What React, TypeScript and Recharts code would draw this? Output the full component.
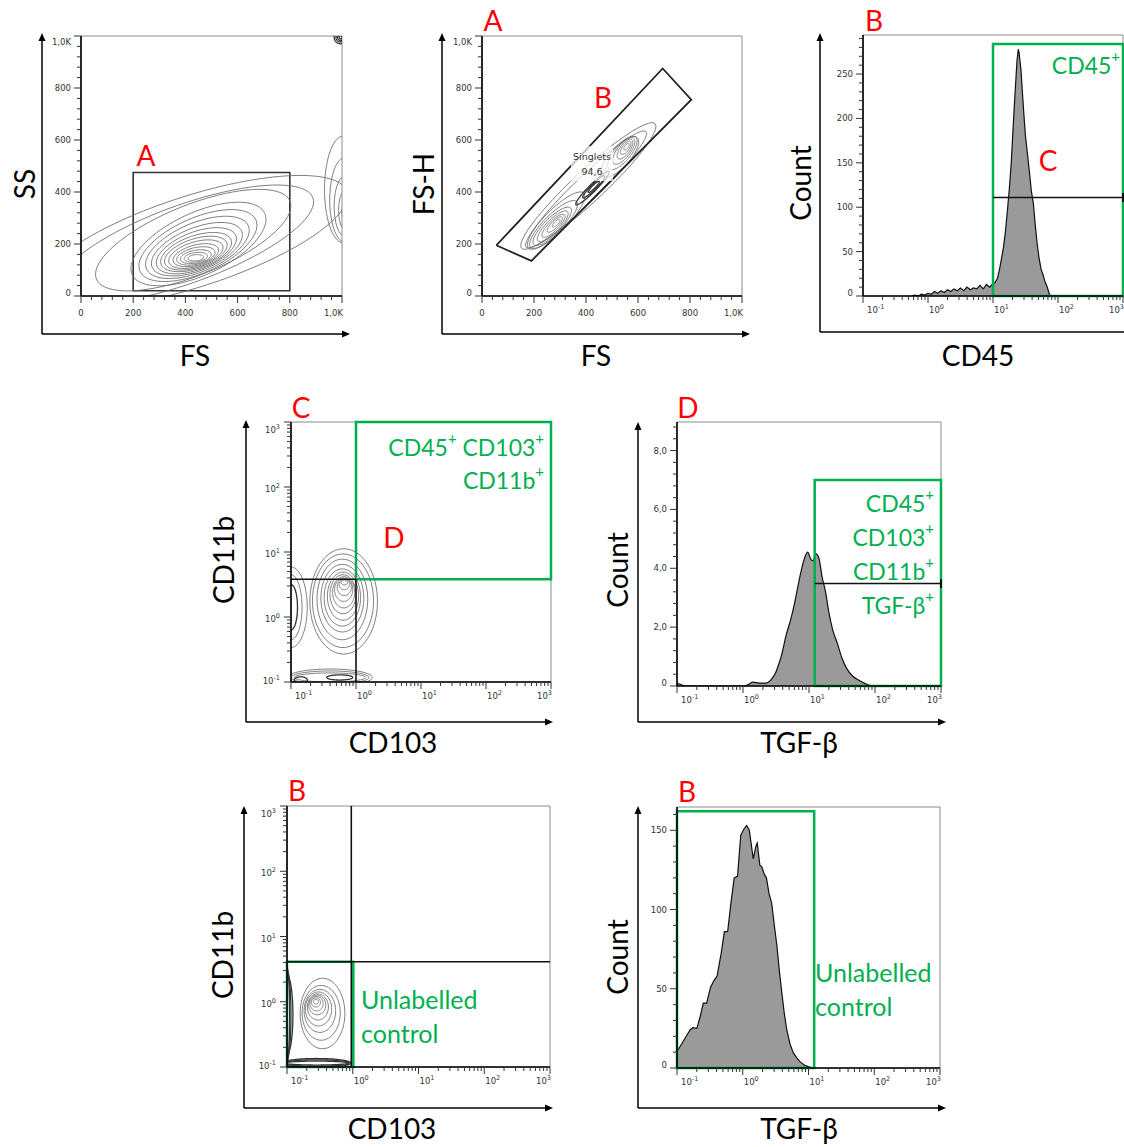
import React from 'react';
import { ComposedChart, XAxis, YAxis, Line, Area, ReferenceArea, ReferenceLine } from 'recharts';

// ---------------- tick values / labels ----------------
const LIN_TICKS = [0, 200, 400, 600, 800, 1000];
const LIN_TICK_LABELS = ['0', '200', '400', '600', '800', '1,0K'];
const LOG_TICKS = [0.1, 1, 10, 100, 1000];
const LOG_TICK_EXPONENTS = ['-1', '0', '1', '2', '3'];
const CD45_COUNT_TICKS = [0, 50, 100, 150, 200, 250];
const CD45_COUNT_LABELS = ['0', '50', '100', '150', '200', '250'];
const TGF_GATED_COUNT_TICKS = [0, 2, 4, 6, 8];
const TGF_GATED_COUNT_LABELS = ['0', '2,0', '4,0', '6,0', '8,0'];
const TGF_CTRL_COUNT_TICKS = [0, 50, 100, 150];
const TGF_CTRL_COUNT_LABELS = ['0', '50', '100', '150'];

// ---------------- histogram data ----------------
const CD45_X = [0.56, 0.63, 0.71, 0.79, 0.89, 1.0, 1.12, 1.26, 1.41, 1.58, 1.78, 2.0, 2.24, 2.51, 2.82, 3.16, 3.55, 3.98, 4.47, 5.01, 5.62, 6.31, 7.08, 7.94, 8.91, 10.0, 10.7, 11.7, 12.6, 13.5, 14.5, 15.5, 16.6, 17.8, 19.1, 20.4, 21.9, 23.4, 24.5, 25.1, 25.7, 26.9, 28.2, 29.5, 31.6, 33.9, 36.3, 38.9, 41.7, 44.7, 47.9, 51.3, 55.0, 58.9, 63.1, 67.6, 72.4, 75.9];
const CD45_COUNT = [0, 1, 0, 2, 1, 3, 2, 5, 3, 6, 4, 7, 5, 8, 6, 9, 6, 10, 7, 9, 8, 12, 8, 13, 10, 14, 15, 20, 30, 42, 55, 72, 95, 120, 150, 190, 230, 265, 278, 275, 268, 255, 232, 210, 180, 160, 140, 118, 105, 80, 58, 42, 30, 24, 16, 11, 4, 0];

const TGF_GATED_X = [0.1, 0.112, 0.132, 1.0, 1.2, 1.41, 1.78, 2.24, 2.63, 3.09, 3.55, 3.89, 4.47, 5.25, 6.03, 6.61, 7.59, 8.71, 9.55, 10.7, 11.5, 12.6, 14.1, 15.8, 17.8, 20.0, 22.9, 26.9, 31.6, 37.2, 45.7, 56.2, 70.8, 87.1];
const TGF_GATED_COUNT = [0.08, 0.06, 0, 0, 0.05, 0.13, 0.1, 0.1, 0.2, 0.43, 0.8, 1.1, 1.7, 2.24, 2.8, 3.25, 3.9, 4.4, 4.55, 4.3, 4.25, 4.5, 4.35, 3.7, 3.2, 2.5, 1.9, 1.45, 0.95, 0.6, 0.34, 0.2, 0.08, 0];

const TGF_CTRL_X = [0.1, 0.117, 0.138, 0.158, 0.174, 0.2, 0.224, 0.251, 0.282, 0.324, 0.363, 0.407, 0.468, 0.525, 0.589, 0.661, 0.741, 0.832, 0.933, 1.047, 1.148, 1.259, 1.38, 1.445, 1.585, 1.66, 1.82, 1.95, 2.138, 2.291, 2.512, 2.754, 3.02, 3.311, 3.631, 3.89, 4.266, 4.677, 5.248, 5.888, 6.607, 7.413, 8.913, 10.72, 12.02];
const TGF_CTRL_COUNT = [10.5, 15, 20, 24, 25.5, 25, 32, 41, 41, 51, 55, 58, 72, 86, 86, 104, 120, 121, 147, 151, 153, 150, 138, 132, 140, 142, 128, 127, 122, 120, 110, 104, 90, 77, 60, 49, 35, 24, 15, 9.5, 6.5, 4, 1.5, 0.4, 0];

// ---------------- contour outlines: [cx, cy, rx, ry, angleDeg, dark] ----------------
const FS_SS_CONTOURS = [
  [440, 147, 30, 12, 5, 0], [440, 149, 45, 18, 8, 0], [440, 151, 60, 25, 10, 0], [440, 154, 75, 32, 13, 0],
  [440, 157, 90, 39, 15, 0], [440, 161, 108, 47, 17, 0], [440, 165, 125, 55, 18, 0], [441, 169, 142, 63, 19, 0],
  [442, 174, 162, 72, 21, 0], [444, 180, 185, 82, 22, 0], [446, 187, 212, 94, 23, 0], [448, 194, 243, 106, 24, 0],
  [450, 200, 280, 120, 25, 0], [430, 215, 400, 135, 22, 0], [400, 200, 520, 150, 20, 0],
  [430, 210, 620, 175, 18, 0],
  [1012, 320, 12, 40, 0, 0], [1012, 330, 25, 75, 0, 0], [1010, 345, 40, 115, 0, 0], [1008, 370, 55, 160, 0, 0], [1005, 410, 72, 205, 0, 0],
  [995, 995, 6, 6, 0, 1], [995, 995, 12, 12, 0, 1], [995, 995, 18, 18, 0, 1], [995, 995, 25, 25, 0, 1],
];
const FS_FSH_CONTOURS = [
  [409, 423, 351, 60, 43, 0], [400, 410, 320, 48, 44, 0],
  [285, 280, 20, 7, 45, 0], [280, 275, 40, 13, 45, 0], [275, 270, 60, 19, 45, 0], [272, 268, 80, 25, 45, 0],
  [270, 268, 100, 31, 45, 0], [275, 275, 125, 37, 45, 0], [285, 290, 150, 43, 45, 0],
  [556, 574, 15, 7, 55, 0], [553, 570, 30, 13, 55, 0], [550, 565, 45, 19, 55, 0], [545, 558, 62, 25, 52, 0],
  [540, 550, 80, 31, 50, 0], [530, 535, 100, 38, 48, 0],
  [430, 420, 30, 6, 45, 1], [430, 420, 60, 10, 45, 1], [425, 415, 90, 14, 45, 1],
];
// log10 coordinates
const CD103_CD11B_CONTOURS = [
  [-0.18, 0.53, 0.05, 0.035, 0, 0], [-0.18, 0.5, 0.08, 0.08, 0, 0], [-0.18, 0.46, 0.11, 0.13, 0, 0],
  [-0.19, 0.42, 0.14, 0.18, 0, 0], [-0.19, 0.38, 0.17, 0.24, 0, 0], [-0.2, 0.35, 0.2, 0.3, 0, 0],
  [-0.2, 0.32, 0.24, 0.37, 0, 0], [-0.21, 0.3, 0.28, 0.44, 0, 0], [-0.21, 0.29, 0.33, 0.52, 0, 0],
  [-0.21, 0.27, 0.39, 0.62, 0, 0], [-0.2, 0.25, 0.47, 0.72, 0, 0], [-0.19, 0.24, 0.52, 0.81, 0, 0],
  [-1.0, 0.15, 0.1, 0.35, 0, 1], [-1.0, 0.15, 0.17, 0.5, 0, 0], [-1.0, 0.15, 0.25, 0.62, 0, 0],
  [-0.4, -0.93, 0.55, 0.07, 0, 0], [-0.4, -0.93, 0.6, 0.1, 0, 0], [-0.4, -0.93, 0.65, 0.13, 0, 0],
  [-0.25, -0.93, 0.2, 0.04, 0, 1], [-0.85, -0.97, 0.1, 0.05, 0, 1],
];
const CTRL_CONTOURS = [
  [-0.56, 0.0, 0.04, 0.035, 0, 0], [-0.56, -0.01, 0.07, 0.07, 0, 0], [-0.55, -0.03, 0.1, 0.11, 0, 0],
  [-0.54, -0.05, 0.13, 0.15, 0, 0], [-0.53, -0.08, 0.16, 0.2, 0, 0], [-0.52, -0.11, 0.2, 0.26, 0, 0],
  [-0.5, -0.14, 0.24, 0.33, 0, 0], [-0.48, -0.17, 0.29, 0.42, 0, 0], [-0.46, -0.18, 0.34, 0.54, 0, 0],
  [-1.0, -0.2, 0.04, 0.72, 0, 1], [-1.0, -0.2, 0.06, 0.68, 0, 1], [-1.0, -0.2, 0.09, 0.6, 0, 1],
  [-0.55, -0.94, 0.48, 0.03, 0, 1], [-0.55, -0.94, 0.5, 0.05, 0, 1], [-0.55, -0.94, 0.52, 0.07, 0, 1],
];
const SINGLETS_GATE_FS = [55, 190, 805, 695, 55];
const SINGLETS_GATE_FSH = [195, 135, 755, 875, 195];

// ---------------- styling ----------------
const GREEN = '#00b050';
const RED = '#ff0000';
const TITLE_FONT = 'Lato, "Open Sans", sans-serif';
const TICK_FONT = '"DejaVu Sans", sans-serif';

const near = (a: number, b: number) => Math.abs(a - b) <= 1e-6 * Math.max(1, Math.abs(b));
const steps = (max: number, num: number, den: number) => {
  const out: number[] = [];
  for (let i = 0; (i * num) / den <= max + 1e-9; i++) out.push((i * num) / den);
  return out;
};
const logTicks = () => {
  const out: number[] = [];
  [-1, 0, 1, 2].forEach((d) => { for (let k = 1; k <= 9; k++) out.push(k * Math.pow(10, d)); });
  out.push(1000);
  return out;
};

function outline(c: number[], log: boolean, n = 80) {
  const [cx, cy, rx, ry, a] = c;
  const t = (a * Math.PI) / 180;
  const pts: { x: number; y: number }[] = [];
  for (let i = 0; i <= n; i++) {
    const u = (i / n) * 2 * Math.PI;
    const ex = rx * Math.cos(u), ey = ry * Math.sin(u);
    const x = cx + ex * Math.cos(t) - ey * Math.sin(t);
    const y = cy + ex * Math.sin(t) + ey * Math.cos(t);
    pts.push(log ? { x: Math.pow(10, x), y: Math.pow(10, y) } : { x, y });
  }
  return pts;
}
const zip = (xs: number[], ys: number[]) => xs.map((x, i) => ({ x, y: ys[i] }));

type AxisCfg = { log: boolean; domain: [number, number]; ticks: number[]; majors: number[]; labels: string[] };

const LIN_AXIS: AxisCfg = { log: false, domain: [0, 1000], ticks: steps(1000, 40, 1), majors: LIN_TICKS, labels: LIN_TICK_LABELS };
const LOG_AXIS: AxisCfg = { log: true, domain: [0.1, 1000], ticks: logTicks(), majors: LOG_TICKS, labels: LOG_TICK_EXPONENTS };

const TICK_TEXT = { fontSize: 8.5, fontFamily: TICK_FONT, fill: '#333' };

function XTick(props: any) {
  const { x, y, payload, cfg } = props;
  const idx = cfg.majors.findIndex((m: number) => near(m, payload.value));
  const major = idx >= 0;
  const last = near(payload.value, cfg.domain[1]);
  return (
    <g>
      <line x1={x} y1={y} x2={x} y2={y + (major ? 7 : 4)} stroke="#333" strokeWidth={1} />
      {major && (cfg.log ? (
        <text x={last ? x + 1 : x + (idx === 0 ? 4 : 1)} y={y + 17} textAnchor={last ? 'end' : 'start'} {...TICK_TEXT}>
          10<tspan dy={-4} fontSize={6.5}>{cfg.labels[idx]}</tspan>
        </text>
      ) : (
        <text x={last ? x + 1 : x} y={y + 20} textAnchor={last ? 'end' : 'middle'} {...TICK_TEXT}>{cfg.labels[idx]}</text>
      ))}
    </g>
  );
}
function YTick(props: any) {
  const { x, y, payload, cfg } = props;
  const idx = cfg.majors.findIndex((m: number) => near(m, payload.value));
  const major = idx >= 0;
  const shift = near(payload.value, cfg.domain[1]) ? 6 : near(payload.value, cfg.domain[0]) ? -3 : 0;
  return (
    <g>
      <line x1={x - (major ? 7 : 4)} y1={y} x2={x} y2={y} stroke="#333" strokeWidth={1} />
      {major && (cfg.log ? (
        <text x={x - 11} y={y + 5 + shift} textAnchor="end" {...TICK_TEXT}>
          10<tspan dy={-4} fontSize={6.5}>{cfg.labels[idx]}</tspan>
        </text>
      ) : (
        <text x={x - 10} y={y + 3 + shift} textAnchor="end" {...TICK_TEXT}>{cfg.labels[idx]}</text>
      ))}
    </g>
  );
}

function Panel({ frame, x, y, children }: { frame: number[]; x: AxisCfg; y: AxisCfg; children: any }) {
  const [fx0, fy0, fx1, fy1] = frame;
  const ML = 50, MR = 22, MT = 6, MB = 30;
  const w = fx1 - fx0 + ML + MR;
  const h = fy1 - fy0 + MT + MB;
  return (
    <div style={{ position: 'absolute', left: fx0 - ML, top: fy0 - MT, width: w, height: h }}>
      <ComposedChart width={w} height={h} margin={{ top: MT, right: MR, bottom: 0, left: 0 }}>
        <XAxis dataKey="x" type="number" scale={x.log ? 'log' : 'linear'} domain={x.domain} allowDataOverflow
          ticks={x.ticks} interval={0} tickSize={0} tickMargin={0} height={MB}
          axisLine={{ stroke: '#000', strokeWidth: 1.6 }} tickLine={false} tick={<XTick cfg={x} />} />
        <YAxis type="number" scale={y.log ? 'log' : 'linear'} domain={y.domain} allowDataOverflow
          ticks={y.ticks} interval={0} tickSize={0} tickMargin={0} width={ML}
          axisLine={{ stroke: '#000', strokeWidth: 1.6 }} tickLine={false} tick={<YTick cfg={y} />} />
        <ReferenceArea x1={x.domain[0]} x2={x.domain[1]} y1={y.domain[0]} y2={y.domain[1]}
          fill="#fff" fillOpacity={0} stroke="#8c8c8c" strokeWidth={1} ifOverflow="visible" />
        {children}
      </ComposedChart>
    </div>
  );
}

const contourLines = (list: number[][], log: boolean, prefix: string) =>
  list.map((c, i) => (
    <Line key={`${prefix}${i}`} data={outline(c, log)} dataKey="y" type="linear" dot={false} activeDot={false}
      stroke={c[5] ? '#333' : '#707070'} strokeWidth={c[5] ? 1.3 : 0.9} isAnimationActive={false} />
  ));

function Arrow({ x1, y1, x2, y2, head = true }: { x1: number; y1: number; x2: number; y2: number; head?: boolean }) {
  const dx = x2 - x1, dy = y2 - y1;
  const L = Math.hypot(dx, dy);
  const ux = dx / L, uy = dy / L;
  const bx = x2 - ux * 8, by = y2 - uy * 8;
  return (
    <g>
      <line x1={x1} y1={y1} x2={head ? bx : x2} y2={head ? by : y2} stroke="#000" strokeWidth={1.5} />
      {head && <polygon points={`${x2},${y2} ${bx - uy * 3.5},${by + ux * 3.5} ${bx + uy * 3.5},${by - ux * 3.5}`} fill="#000" />}
    </g>
  );
}

const Title = ({ x, y, text, rot = false }: { x: number; y: number; text: string; rot?: boolean }) => (
  <text x={x} y={y} textAnchor="middle" dominantBaseline="central" fontSize={28} fontFamily={TITLE_FONT} fill="#000"
    transform={rot ? `rotate(-90 ${x} ${y})` : undefined}>{text}</text>
);
const Letter = ({ x, y, t }: { x: number; y: number; t: string }) => (
  <text x={x} y={y} textAnchor="middle" dominantBaseline="central" fontSize={28} fontFamily={TITLE_FONT} fill={RED}>{t}</text>
);
const GreenPlus = ({ x, y, parts, size = 23, anchor = 'end' }: { x: number; y: number; parts: string[]; size?: number; anchor?: string }) => (
  <text x={x} y={y} textAnchor={anchor} dominantBaseline="central" fontSize={size} fontFamily={TITLE_FONT} fill={GREEN}>
    {parts.map((p, i) => [
      <tspan key={`a${i}`} dy={i === 0 ? 0 : 9}>{p}</tspan>,
      <tspan key={`b${i}`} dy={-9} fontSize={size * 0.65}>+</tspan>,
    ])}
  </text>
);
const GreenText = ({ x, y, t, size = 25 }: { x: number; y: number; t: string; size?: number }) => (
  <text x={x} y={y} textAnchor="start" dominantBaseline="central" fontSize={size} fontFamily={TITLE_FONT} fill={GREEN}>{t}</text>
);

export default function App() {
  const cd45Axis: AxisCfg = { log: false, domain: [0, 294], ticks: steps(290, 10, 1), majors: CD45_COUNT_TICKS, labels: CD45_COUNT_LABELS };
  const tgfGatedAxis: AxisCfg = { log: false, domain: [0, 8.97], ticks: steps(8.8, 4, 10), majors: TGF_GATED_COUNT_TICKS, labels: TGF_GATED_COUNT_LABELS };
  const tgfCtrlAxis: AxisCfg = { log: false, domain: [0, 164.7], ticks: steps(160, 10, 1), majors: TGF_CTRL_COUNT_TICKS, labels: TGF_CTRL_COUNT_LABELS };
  const singlets = zip(SINGLETS_GATE_FS, SINGLETS_GATE_FSH);

  return (
    <div style={{ position: 'absolute', left: 0, top: 0, width: 1124, height: 1147, overflow: 'hidden', background: '#fff' }}>
      {/* Panel 1: SS vs FS */}
      <Panel frame={[81, 36, 342, 296]} x={LIN_AXIS} y={LIN_AXIS}>
        {contourLines(FS_SS_CONTOURS, false, 'p1')}
        <ReferenceArea x1={200} x2={800} y1={20} y2={475} fill="#fff" fillOpacity={0} stroke="#333" strokeWidth={1.6} />
      </Panel>

      {/* Panel 2: FS-H vs FS */}
      <Panel frame={[482, 36, 742, 296]} x={LIN_AXIS} y={LIN_AXIS}>
        {contourLines(FS_FSH_CONTOURS, false, 'p2')}
        <Line data={singlets} dataKey="y" type="linear" dot={false} activeDot={false} stroke="#222" strokeWidth={1.8} isAnimationActive={false} />
      </Panel>

      {/* Panel 3: CD45 histogram */}
      <Panel frame={[863, 35, 1123, 296]} x={LOG_AXIS} y={cd45Axis}>
        <Area data={zip(CD45_X, CD45_COUNT)} dataKey="y" type="linear" stroke="#111" strokeWidth={1.2} fill="#9a9a9a" fillOpacity={1} baseValue={0} isAnimationActive={false} />
        <ReferenceArea x1={10} x2={1000} y1={0} y2={284} fill="#fff" fillOpacity={0} stroke={GREEN} strokeWidth={2.5} />
        <ReferenceLine segment={[{ x: 10, y: 111 }, { x: 1000, y: 111 }]} stroke="#111" strokeWidth={1.5} />
        <ReferenceLine segment={[{ x: 1000, y: 106 }, { x: 1000, y: 116 }]} stroke="#111" strokeWidth={2} />
      </Panel>

      {/* Panel 4: CD11b vs CD103 */}
      <Panel frame={[291, 422, 551, 682]} x={LOG_AXIS} y={LOG_AXIS}>
        {contourLines(CD103_CD11B_CONTOURS, true, 'p4')}
        <ReferenceLine segment={[{ x: 1, y: 0.1 }, { x: 1, y: 3.8 }]} stroke="#111" strokeWidth={1.6} />
        <ReferenceLine segment={[{ x: 0.1, y: 3.8 }, { x: 1, y: 3.8 }]} stroke="#111" strokeWidth={1.6} />
        <ReferenceArea x1={1} x2={1000} y1={3.8} y2={1000} fill="#fff" fillOpacity={0} stroke={GREEN} strokeWidth={2.5} />
      </Panel>

      {/* Panel 5: TGF-beta gated histogram */}
      <Panel frame={[677, 422, 941, 686]} x={LOG_AXIS} y={tgfGatedAxis}>
        <Area data={zip(TGF_GATED_X, TGF_GATED_COUNT)} dataKey="y" type="monotone" stroke="#111" strokeWidth={1.2} fill="#9a9a9a" fillOpacity={1} baseValue={0} isAnimationActive={false} />
        <ReferenceArea x1={12.2} x2={1000} y1={0} y2={7.0} fill="#fff" fillOpacity={0} stroke={GREEN} strokeWidth={2.5} />
        <ReferenceLine segment={[{ x: 12.2, y: 3.48 }, { x: 1000, y: 3.48 }]} stroke="#111" strokeWidth={1.5} />
        <ReferenceLine segment={[{ x: 1000, y: 3.33 }, { x: 1000, y: 3.63 }]} stroke="#111" strokeWidth={2} />
      </Panel>

      {/* Panel 6: control CD11b vs CD103 */}
      <Panel frame={[287, 806, 550, 1067]} x={LOG_AXIS} y={LOG_AXIS}>
        {contourLines(CTRL_CONTOURS, true, 'p6')}
        <ReferenceLine segment={[{ x: 0.95, y: 0.1 }, { x: 0.95, y: 1000 }]} stroke="#111" strokeWidth={1.6} />
        <ReferenceLine segment={[{ x: 0.1, y: 4.1 }, { x: 1000, y: 4.1 }]} stroke="#111" strokeWidth={1.6} />
        <ReferenceArea x1={0.1} x2={1.02} y1={0.1} y2={4.1} fill="#fff" fillOpacity={0} stroke={GREEN} strokeWidth={2.5} />
      </Panel>

      {/* Panel 7: control TGF-beta histogram */}
      <Panel frame={[677, 807, 940, 1068]} x={LOG_AXIS} y={tgfCtrlAxis}>
        <Area data={zip(TGF_CTRL_X, TGF_CTRL_COUNT)} dataKey="y" type="linear" stroke="#111" strokeWidth={1.2} fill="#9a9a9a" fillOpacity={1} baseValue={0} isAnimationActive={false} />
        <ReferenceArea x1={0.1} x2={12.2} y1={0} y2={162} fill="#fff" fillOpacity={0} stroke={GREEN} strokeWidth={2.5} />
      </Panel>

      {/* Overlay: outer arrows, titles, letters, gate labels */}
      <svg width={1124} height={1147} style={{ position: 'absolute', left: 0, top: 0, pointerEvents: 'none' }}>
        <Arrow x1={42} y1={334} x2={42} y2={33} />
        <Arrow x1={42} y1={334} x2={350} y2={334} />
        <Arrow x1={442} y1={334} x2={442} y2={33} />
        <Arrow x1={442} y1={334} x2={750} y2={334} />
        <Arrow x1={820} y1={332} x2={820} y2={33} />
        <Arrow x1={820} y1={332} x2={1124} y2={332} head={false} />
        <Arrow x1={246} y1={722} x2={246} y2={420} />
        <Arrow x1={246} y1={722} x2={553} y2={722} />
        <Arrow x1={638} y1={722} x2={638} y2={422} />
        <Arrow x1={638} y1={722} x2={946} y2={722} />
        <Arrow x1={244} y1={1108} x2={244} y2={806} />
        <Arrow x1={244} y1={1108} x2={553} y2={1108} />
        <Arrow x1={638} y1={1108} x2={638} y2={806} />
        <Arrow x1={638} y1={1108} x2={946} y2={1108} />

        <Title x={24} y={184} text="SS" rot />
        <Title x={195} y={355} text="FS" />
        <Title x={423} y={184} text="FS-H" rot />
        <Title x={596} y={355} text="FS" />
        <Title x={800} y={183} text="Count" rot />
        <Title x={978} y={355} text="CD45" />
        <Title x={223} y={560} text="CD11b" rot />
        <Title x={393} y={742} text="CD103" />
        <Title x={617} y={570} text="Count" rot />
        <Title x={799} y={742} text="TGF-β" />
        <Title x={222} y={955} text="CD11b" rot />
        <Title x={392} y={1128} text="CD103" />
        <Title x={617} y={957} text="Count" rot />
        <Title x={799} y={1128} text="TGF-β" />

        <Letter x={146} y={155} t="A" />
        <Letter x={493} y={20} t="A" />
        <Letter x={603} y={97} t="B" />
        <Letter x={874} y={20} t="B" />
        <Letter x={1048} y={160} t="C" />
        <Letter x={301} y={407} t="C" />
        <Letter x={394} y={537} t="D" />
        <Letter x={688} y={407} t="D" />
        <Letter x={297} y={790} t="B" />
        <Letter x={687} y={791} t="B" />

        <rect x={571} y={146} width={42} height={35} fill="#fff" fillOpacity={0.7} />
        <text x={592} y={160} textAnchor="middle" fontSize={9.5} fontFamily={TICK_FONT} fill="#333">Singlets</text>
        <text x={592} y={175} textAnchor="middle" fontSize={9.5} fontFamily={TICK_FONT} fill="#333">94,6</text>

        <GreenPlus x={1120} y={65} parts={['CD45']} />
        <GreenPlus x={544} y={447} parts={['CD45', ' CD103']} />
        <GreenPlus x={544} y={480} parts={['CD11b']} />
        <GreenPlus x={934} y={503} parts={['CD45']} />
        <GreenPlus x={934} y={537} parts={['CD103']} />
        <GreenPlus x={934} y={571} parts={['CD11b']} />
        <GreenPlus x={934} y={605} parts={['TGF-β']} />
        <GreenText x={361} y={999} t="Unlabelled" />
        <GreenText x={361} y={1033} t="control" />
        <GreenText x={815} y={972} t="Unlabelled" />
        <GreenText x={815} y={1006} t="control" />
      </svg>
    </div>
  );
}
